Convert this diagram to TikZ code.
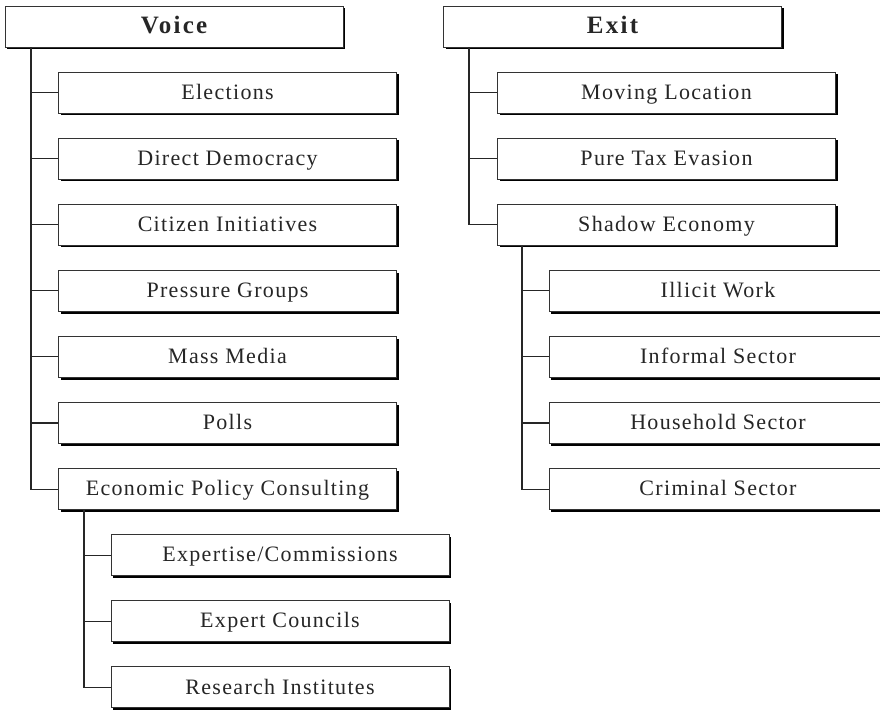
\documentclass[tikz,border=0pt]{standalone}
\usepackage{fontspec}
\setmainfont{Liberation Serif}
\newfontfamily\lblfont[LetterSpace=6]{Liberation Serif}
\newfontfamily\hdfont[LetterSpace=9]{Liberation Serif}
\usetikzlibrary{shadows}
\begin{document}
\begin{tikzpicture}[x=1pt,y=-1pt,
  basebox/.style={draw=black!80, line width=0.9pt, fill=white,
    minimum width=338pt, minimum height=41pt, inner sep=0pt,
    text=black!85,
    drop shadow={shadow xshift=2.2pt, shadow yshift=-2.2pt, fill=black, opacity=1}},
  headbox/.style={basebox, text height=17pt, text depth=3.2pt,
    font=\hdfont\bfseries\fontsize{25}{28}\selectfont},
  itembox/.style={basebox, text height=15.6pt, text depth=2.4pt,
    font=\lblfont\fontsize{22}{26}\selectfont},
  link/.style={draw=black!85, line width=1.1pt}]
\clip (0,0) rectangle (880,711);
\fill[white] (0,0) rectangle (880,711);

% column heads
\node[headbox] (voice) at (174,26.5) {Voice};
\node[headbox] (exit)  at (612.5,26.5) {Exit};

% voice branch
\node[itembox] (v1) at (227.5,92.5)  {Elections};
\node[itembox] (v2) at (227.5,158.6) {Direct Democracy};
\node[itembox] (v3) at (227.5,224.7) {Citizen Initiatives};
\node[itembox] (v4) at (227.5,290.8) {Pressure Groups};
\node[itembox] (v5) at (227.5,356.9) {Mass Media};
\node[itembox] (v6) at (227.5,423.0) {Polls};
\node[itembox] (v7) at (227.5,489.1) {Economic Policy Consulting};
\node[itembox] (c1) at (280,555.2) {Expertise/Commissions};
\node[itembox] (c2) at (280,621.3) {Expert Councils};
\node[itembox] (c3) at (280,687.4) {Research Institutes};

% exit branch
\node[itembox] (e1) at (666.5,92.5)  {Moving Location};
\node[itembox] (e2) at (666.5,158.6) {Pure Tax Evasion};
\node[itembox] (e3) at (666.5,224.7) {Shadow Economy};
\node[itembox] (s1) at (718,290.8) {Illicit Work};
\node[itembox] (s2) at (718,356.9) {Informal Sector};
\node[itembox] (s3) at (718,423.0) {Household Sector};
\node[itembox] (s4) at (718,489.1) {Criminal Sector};

% trunk positions
\coordinate (tv) at (31,0);
\coordinate (tc) at (84,0);
\coordinate (te) at (469,0);
\coordinate (ts) at (522,0);

\foreach \n in {v1,v2,v3,v4,v5,v6,v7}
  \draw[link] (tv |- voice.south) |- (\n.west);
\foreach \n in {c1,c2,c3}
  \draw[link] (tc |- v7.south) |- (\n.west);
\foreach \n in {e1,e2,e3}
  \draw[link] (te |- exit.south) |- (\n.west);
\foreach \n in {s1,s2,s3,s4}
  \draw[link] (ts |- e3.south) |- (\n.west);
\end{tikzpicture}
\end{document}
